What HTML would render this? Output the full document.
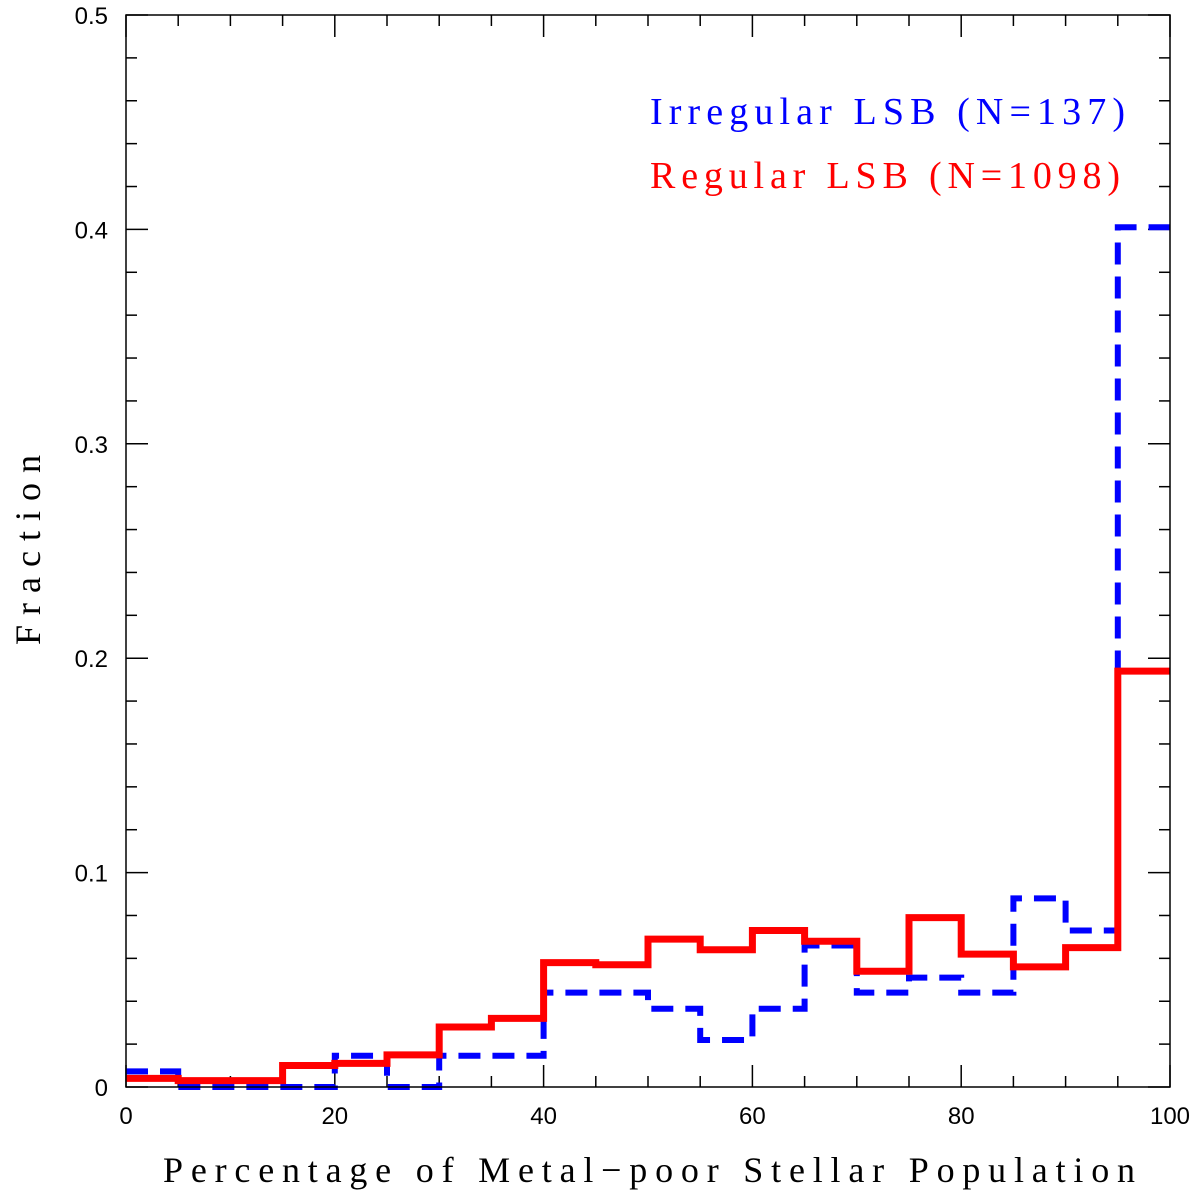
<!DOCTYPE html>
<html><head><meta charset="utf-8"><style>
html,body{margin:0;padding:0;background:#fff;}
svg{display:block;}
</style></head><body>
<svg id="chart" width="1200" height="1193" viewBox="0 0 1200 1193">
<g id="ticks"></g>
<g id="series"></g>
<rect x="126" y="15" width="1044" height="1072" fill="none" stroke="#000" stroke-width="1.5"/>
<text x="40" y="550" transform="rotate(-90 40 550)" text-anchor="middle" font-family="Liberation Serif, serif" font-size="36" textLength="190" lengthAdjust="spacing">Fraction</text>
<text x="649" y="1182" text-anchor="middle" font-family="Liberation Serif, serif" font-size="36" textLength="972" lengthAdjust="spacing">Percentage of Metal−poor Stellar Population</text>
<text x="650" y="124" fill="#0000ff" font-family="Liberation Serif, serif" font-size="38" textLength="475" lengthAdjust="spacing">Irregular LSB (N=137)</text>
<text x="650" y="188" fill="#ff0000" font-family="Liberation Serif, serif" font-size="38" textLength="470" lengthAdjust="spacing">Regular LSB (N=1098)</text>
</svg>
<script>
const binEdges = [0,5,10,15,20,25,30,35,40,45,50,55,60,65,70,75,80,85,90,95,100];
const regularValues = [0.004,0.003,0.003,0.010,0.011,0.015,0.028,0.032,0.058,0.057,0.069,0.064,0.073,0.068,0.054,0.079,0.062,0.056,0.065,0.194];
const irregularValues = [0.0073,0,0,0,0.0146,0,0.0146,0.0146,0.044,0.044,0.0365,0.0219,0.0365,0.066,0.044,0.051,0.044,0.088,0.073,0.401];
const xTickLabels = [0,20,40,60,80,100];
const yTickLabels = [0,0.1,0.2,0.3,0.4,0.5];
const X0=126,X1=1170,Y0=1087,Y1=15;
function xs(v){return X0+(v/100)*(X1-X0);}
function ys(v){return Y0-(v/0.5)*(Y0-Y1);}
const NS="http://www.w3.org/2000/svg";
const tg=document.getElementById('ticks');
function line(g,x1,y1,x2,y2,attrs){const l=document.createElementNS(NS,'line');l.setAttribute('x1',x1);l.setAttribute('y1',y1);l.setAttribute('x2',x2);l.setAttribute('y2',y2);for(const k in attrs)l.setAttribute(k,attrs[k]);g.appendChild(l);return l;}
for(let v=0;v<=100;v+=5){const major=v%20===0;const L=major?22:11;
 let l=line(tg,xs(v),Y0,xs(v),Y0-L,{stroke:'#000','stroke-width':1.5});
 
 
 l=line(tg,xs(v),Y1,xs(v),Y1+L,{stroke:'#000','stroke-width':1.5});
 
 }
for(let i=0;i<=25;i++){const v=i*0.02;const major=i%5===0;const L=major?22:11;
 let l=line(tg,X0,ys(v),X0+L,ys(v),{stroke:'#000','stroke-width':1.5});
 
 
 l=line(tg,X1,ys(v),X1-L,ys(v),{stroke:'#000','stroke-width':1.5});
 
 }
xTickLabels.forEach(v=>{const t=document.createElementNS(NS,'text');t.setAttribute('x',xs(v));t.setAttribute('y',1124);t.setAttribute('text-anchor','middle');t.setAttribute('font-family','Liberation Sans, sans-serif');t.setAttribute('font-size','24');t.textContent=v;
 
 
 tg.appendChild(t);});
yTickLabels.forEach(v=>{const t=document.createElementNS(NS,'text');t.setAttribute('x',108);t.setAttribute('y',ys(v)+9);t.setAttribute('text-anchor','end');t.setAttribute('font-family','Liberation Sans, sans-serif');t.setAttribute('font-size','24');t.textContent=v===0?'0':v.toFixed(1);
 
 
 tg.appendChild(t);});
function stepPath(vals){let d='M'+xs(binEdges[0])+','+ys(vals[0]);for(let i=0;i<vals.length;i++){if(i>0)d+=' L'+xs(binEdges[i])+','+ys(vals[i]);d+=' L'+xs(binEdges[i+1])+','+ys(vals[i]);}return d;}
const sg=document.getElementById('series');
const pb=document.createElementNS(NS,'path');pb.setAttribute('d',stepPath(irregularValues));pb.setAttribute('fill','none');pb.setAttribute('stroke','#0000ff');pb.setAttribute('stroke-width','6');pb.setAttribute('stroke-dasharray','22,12');


sg.appendChild(pb);
const pr=document.createElementNS(NS,'path');pr.setAttribute('d',stepPath(regularValues));pr.setAttribute('fill','none');pr.setAttribute('stroke','#ff0000');pr.setAttribute('stroke-width','7');


sg.appendChild(pr);
</script>
</body></html>
